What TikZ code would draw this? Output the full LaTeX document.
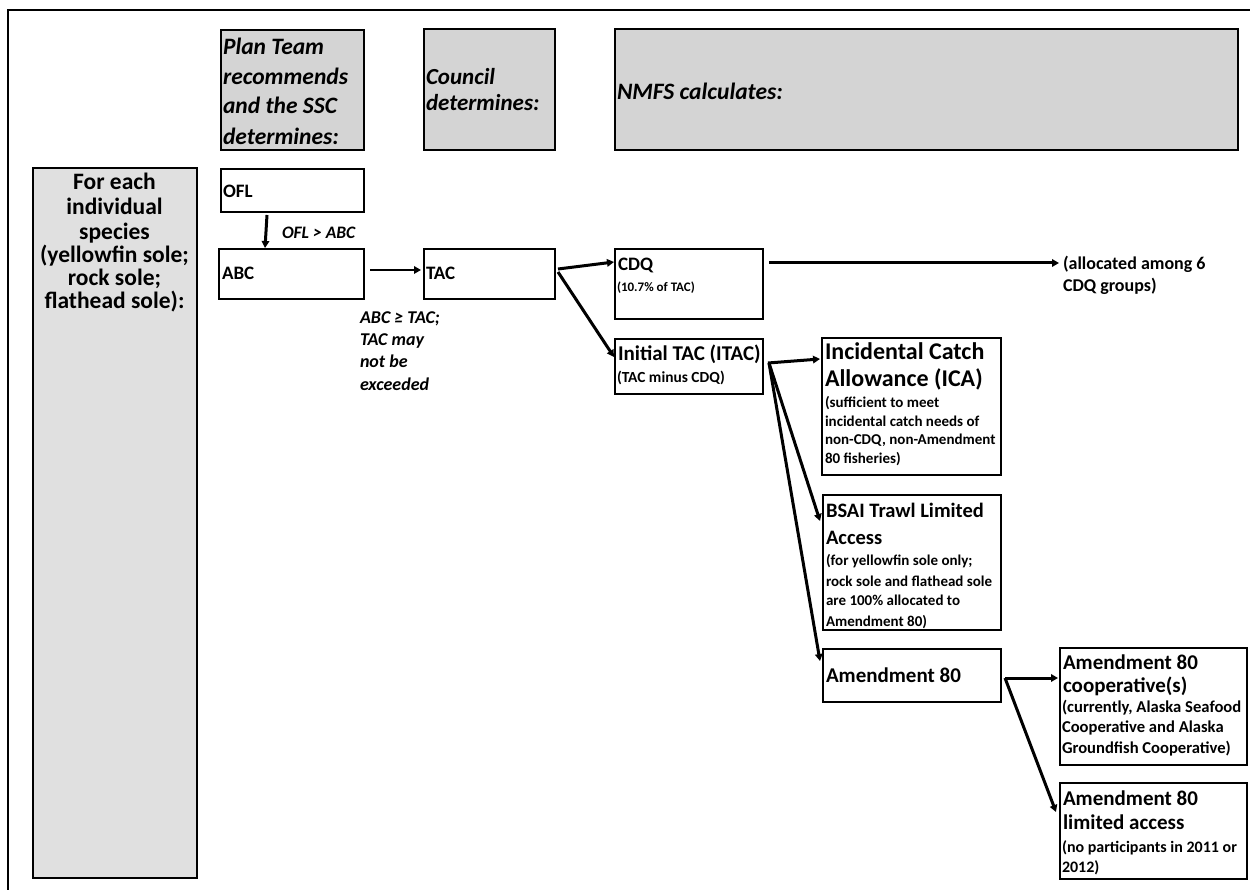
\documentclass[tikz,border=0pt]{standalone}
\usepackage{fontspec}
\setmainfont{Carlito}
\usetikzlibrary{arrows.meta}
\newcommand\tline[5]{\node[txt, font=#2] (#1) at (#3,#4) {#5};}
\begin{document}
\begin{tikzpicture}[x=1pt,y=-1pt,
  bx/.style={draw=black, line width=2.3pt, inner sep=0pt, outer sep=0pt, anchor=north west},
  shade/.style={fill=black!17},
  txt/.style={anchor=base west, inner sep=0pt, outer sep=0pt},
  ctxt/.style={anchor=base, inner sep=0pt, outer sep=0pt},
  arr/.style={line width=3pt, -{Triangle[length=7pt,width=7.5pt]}},
]
\useasboundingbox (0,0) rectangle (1250,890);
\fill[white] (0,0) rectangle (1250,890);
% outer frame
\draw[line width=1.2pt] (8,892) -- (8,10) -- (1252,10);

% header boxes
\node[bx, shade, minimum width=143pt, minimum height=120pt] (plan) at (221,30) {};
\node[bx, shade, minimum width=131pt, minimum height=121pt] (council) at (424,29) {};
\node[bx, shade, minimum width=623pt, minimum height=121pt] (nmfs) at (615,29) {};
\tline{p1}{\fontsize{23.5}{28}\selectfont\bfseries\itshape}{223}{55}{Plan Team}
\tline{p2}{\fontsize{23.5}{28}\selectfont\bfseries\itshape}{223}{85}{recommends}
\tline{p3}{\fontsize{23.5}{28}\selectfont\bfseries\itshape}{223}{114}{and the SSC}
\tline{p4}{\fontsize{23.5}{28}\selectfont\bfseries\itshape}{223}{145}{determines:}
\tline{c1}{\fontsize{23}{28}\selectfont\bfseries\itshape}{426}{85}{Council}
\tline{c2}{\fontsize{23}{28}\selectfont\bfseries\itshape}{426}{111}{determines:}
\tline{n1}{\fontsize{23.5}{28}\selectfont\bfseries\itshape}{617}{100}{NMFS calculates:}

% left box
\node[bx, fill=black!12, minimum width=164pt, minimum height=710pt] (left) at (33,168) {};
\node[ctxt, font=\fontsize{23.5}{26}\selectfont\bfseries] (l1) at (114.5,190) {For each};
\node[ctxt, font=\fontsize{23.5}{26}\selectfont\bfseries] (l2) at (114.5,215) {individual};
\node[ctxt, font=\fontsize{23.5}{26}\selectfont\bfseries] (l3) at (114.5,240) {species};
\node[ctxt, font=\fontsize{23.5}{26}\selectfont\bfseries] (l4) at (114.5,263) {(yellowfin sole;};
\node[ctxt, font=\fontsize{23.5}{26}\selectfont\bfseries] (l5) at (114.5,286) {rock sole;};
\node[ctxt, font=\fontsize{23.5}{26}\selectfont\bfseries] (l6) at (114.5,309) {flathead sole):};

% boxes
\node[bx, minimum width=143pt, minimum height=43pt] (ofl) at (221,169) {};
\node[bx, minimum width=145pt, minimum height=50pt] (abc) at (219,249) {};
\node[bx, minimum width=131pt, minimum height=50pt] (tac) at (424,249) {};
\node[bx, minimum width=148pt, minimum height=70pt] (cdq) at (615,249) {};
\node[bx, minimum width=148pt, minimum height=55pt] (itac) at (615,339) {};
\node[bx, minimum width=179pt, minimum height=137pt] (ica) at (822,338) {};
\node[bx, minimum width=178pt, minimum height=135pt] (bsai) at (823,495) {};
\node[bx, minimum width=178pt, minimum height=53pt] (a80) at (823,649) {};
\node[bx, minimum width=187pt, minimum height=117pt] (coop) at (1060,648) {};
\node[bx, minimum width=187pt, minimum height=96pt] (lim) at (1060,783) {};

\tline{t-ofl}{\fontsize{19}{22}\selectfont\bfseries}{223}{198}{OFL}
\tline{t-abc}{\fontsize{19}{22}\selectfont\bfseries}{222}{280}{ABC}
\tline{t-tac}{\fontsize{19}{22}\selectfont\bfseries}{426}{280}{TAC}
\tline{t-cdq}{\fontsize{19}{22}\selectfont\bfseries}{618}{271}{CDQ}
\tline{s-cdq}{\fontsize{13}{16}\selectfont\bfseries}{617}{292}{(10.7\% of TAC)}
\tline{t-itac}{\fontsize{21}{24}\selectfont\bfseries}{618}{361}{Initial TAC (ITAC)}
\tline{s-itac}{\fontsize{15.4}{18}\selectfont\bfseries}{617}{382}{(TAC minus CDQ)}

\tline{ica1}{\fontsize{24}{27}\selectfont\bfseries}{825}{360}{Incidental Catch}
\tline{ica2}{\fontsize{24}{27}\selectfont\bfseries}{825}{386}{Allowance (ICA)}
\tline{ica3}{\fontsize{15}{18}\selectfont\bfseries}{825}{407}{(sufficient to meet}
\tline{ica4}{\fontsize{15}{18}\selectfont\bfseries}{825}{426}{incidental catch needs of}
\tline{ica5}{\fontsize{15}{18}\selectfont\bfseries}{825}{444}{non-CDQ, non-Amendment}
\tline{ica6}{\fontsize{15}{18}\selectfont\bfseries}{825}{463}{80 fisheries)}

\tline{bs1}{\fontsize{20.5}{24}\selectfont\bfseries}{826}{517}{BSAI Trawl Limited}
\tline{bs2}{\fontsize{20.5}{24}\selectfont\bfseries}{826}{544}{Access}
\tline{bs3}{\fontsize{15}{18}\selectfont\bfseries}{826}{565}{(for yellowfin sole only;}
\tline{bs4}{\fontsize{15}{18}\selectfont\bfseries}{826}{586}{rock sole and flathead sole}
\tline{bs5}{\fontsize{15}{18}\selectfont\bfseries}{826}{605}{are 100\% allocated to}
\tline{bs6}{\fontsize{15}{18}\selectfont\bfseries}{826}{626}{Amendment 80)}

\tline{a801}{\fontsize{21}{24}\selectfont\bfseries}{826}{682}{Amendment 80}

\tline{co1}{\fontsize{21}{24}\selectfont\bfseries}{1063}{669}{Amendment 80}
\tline{co2}{\fontsize{21}{24}\selectfont\bfseries}{1063}{692}{cooperative(s)}
\tline{co3}{\fontsize{16.6}{18}\selectfont\bfseries}{1062}{712}{(currently, Alaska Seafood}
\tline{co4}{\fontsize{16.6}{18}\selectfont\bfseries}{1062}{732}{Cooperative and Alaska}
\tline{co5}{\fontsize{16.6}{18}\selectfont\bfseries}{1062}{753}{Groundfish Cooperative)}

\tline{li1}{\fontsize{21}{24}\selectfont\bfseries}{1063}{805}{Amendment 80}
\tline{li2}{\fontsize{21}{24}\selectfont\bfseries}{1063}{829}{limited access}
\tline{li3}{\fontsize{16}{18}\selectfont\bfseries}{1062}{852}{(no participants in 2011 or}
\tline{li4}{\fontsize{16}{18}\selectfont\bfseries}{1062}{872}{2012)}

% labels
\tline{lab-ofl}{\fontsize{17.5}{20}\selectfont\bfseries\itshape}{282}{239}{OFL > ABC}
\tline{lab-a1}{\fontsize{18}{21}\selectfont\bfseries\itshape}{360}{324}{ABC ≥ TAC;}
\tline{lab-a2}{\fontsize{18}{21}\selectfont\bfseries\itshape}{360}{346}{TAC may}
\tline{lab-a3}{\fontsize{18}{21}\selectfont\bfseries\itshape}{360}{368}{not be}
\tline{lab-a4}{\fontsize{18}{21}\selectfont\bfseries\itshape}{360}{390}{exceeded}
\tline{al1}{\fontsize{18}{22}\selectfont\bfseries}{1063}{270}{(allocated among 6}
\tline{al2}{\fontsize{18}{22}\selectfont\bfseries}{1063}{292}{CDQ groups)}

% connector end points
\coordinate (ofl-s) at ([xshift=46pt,yshift=-3pt]ofl.south west);
\coordinate (abc-n) at ([xshift=46pt,yshift=1pt]abc.north west);
\coordinate (tac-e) at ([yshift=-20pt,xshift=3pt]tac.north east);
\coordinate (itac-e) at ([yshift=-24pt,xshift=5pt]itac.north east);
\coordinate (a80-e) at ([yshift=-29pt,xshift=4pt]a80.north east);

\draw[arr] (ofl-s) -- (abc-n);
\draw[arr, line width=2.2pt] ([yshift=-21pt,xshift=6pt]abc.north east) -- ([yshift=-21pt,xshift=-3pt]tac.north west);
\draw[arr] (tac-e) -- ([yshift=-13pt,xshift=-1pt]cdq.north west);
\draw[arr] ([yshift=-3pt]tac-e) -- ([yshift=-18pt,xshift=-1pt]itac.north west);
\draw[arr] ([xshift=6pt,yshift=-14pt]cdq.north east) -- ([yshift=-14pt,xshift=-4pt]al1.west |- cdq.north west);
\draw[arr] (itac-e) -- ([yshift=-21pt,xshift=-2pt]ica.north west);
\draw[arr] ([xshift=1pt]itac-e) -- ([yshift=-26pt,xshift=-3pt]bsai.north west);
\draw[arr] ([xshift=1pt]itac-e) -- ([yshift=-12pt,xshift=-3pt]a80.north west);
\draw[arr] (a80-e) -- ([yshift=-30pt,xshift=-2pt]coop.north west);
\draw[arr] (a80-e) -- ([yshift=-29pt,xshift=-4pt]lim.north west);
\end{tikzpicture}
\end{document}
